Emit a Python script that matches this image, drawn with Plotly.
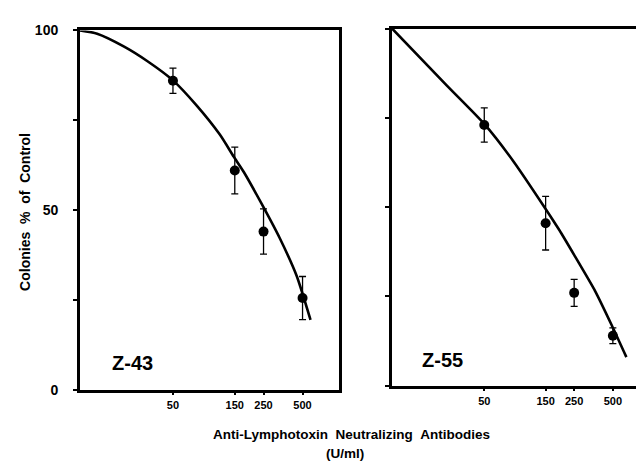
import plotly.graph_objects as go

# ── Data ────────────────────────────────────────────────────────────────────
doses = [50, 150, 250, 500]
dose_ticks = [50, 150, 250, 500]
dose_labels = ["50", "150", "250", "500"]

z43_mean = [86, 61, 44, 25.5]
z43_err = [3.5, 6.5, 6.3, 6.0]
z55_mean = [73, 45.5, 26, 14]
z55_err = [4.8, 7.5, 3.8, 2.2]

# fitted curves
z43_curve_x = [9.6, 13, 21, 31.6, 50, 76.6, 115, 147, 176, 242, 333, 450, 576]
z43_curve_y = [100, 99.1, 95.5, 91.5, 86.1, 79.0, 71.0, 64.9, 60.6, 51.7, 42.2, 31.7, 19.4]
z55_curve_x = [9.6, 25.5, 50, 83.6, 150, 190, 253, 364, 489, 637]
z55_curve_y = [100, 84.1, 73.3, 63.0, 49.5, 43.8, 36.3, 26.5, 17.0, 8.0]

y_ticks = [0, 25, 50, 75, 100]

W, H = 644, 462
FONT = "Arial"
BLACK = "#000000"
SP = "\u00a0\u00a0"   # wide word gaps as in the original typesetting

fig = go.Figure()

panels = [
    ("x", "y", z43_curve_x, z43_curve_y, z43_mean, z43_err),
    ("x2", "y2", z55_curve_x, z55_curve_y, z55_mean, z55_err),
]
for xa, ya, cx, cy, m, e in panels:
    fig.add_trace(go.Scatter(
        x=cx, y=cy, xaxis=xa, yaxis=ya, mode="lines",
        line=dict(color=BLACK, width=2.6, shape="spline", smoothing=0.6),
        showlegend=False, hoverinfo="skip",
    ))
    fig.add_trace(go.Scatter(
        x=doses, y=m, xaxis=xa, yaxis=ya, mode="markers",
        marker=dict(color=BLACK, size=10),
        error_y=dict(type="data", array=e, visible=True,
                     color=BLACK, thickness=1.3, width=3.5),
        showlegend=False,
    ))

xcommon = dict(
    type="log", range=[0.98, 2.98],
    tickvals=dose_ticks, ticktext=dose_labels,
    ticks="outside", ticklen=3, tickwidth=1.5, tickcolor=BLACK,
    showline=True, linecolor=BLACK, linewidth=2.5, mirror=True,
    showgrid=False, zeroline=False,
    tickfont=dict(family=FONT, size=11, color=BLACK, weight="bold"),
)
ycommon = dict(
    range=[0, 100], tickvals=y_ticks,
    ticks="outside", ticklen=4, tickwidth=1.5, tickcolor=BLACK,
    showline=True, linecolor=BLACK, linewidth=2.5, mirror=True,
    showgrid=False, zeroline=False, ticklabelstandoff=12,
    tickfont=dict(family=FONT, size=14, color=BLACK, weight="bold"),
)

fig.update_layout(
    width=W, height=H,
    margin=dict(l=0, r=0, t=0, b=0),
    paper_bgcolor="white", plot_bgcolor="white",
    xaxis=dict(xcommon, domain=[72 / W, 332 / W], anchor="y"),
    yaxis=dict(ycommon, domain=[1 - 387 / H, 1 - 15 / H], anchor="x",
               ticktext=["0", "", "50", "", "100"]),
    xaxis2=dict(xcommon, domain=[385 / W, 643 / W], anchor="y2"),
    yaxis2=dict(ycommon, domain=[1 - 383 / H, 1 - 13 / H], anchor="x2",
                ticktext=["", "", "", "", ""]),
)

# panel labels
fig.add_annotation(text="Z-43", xref="x domain", yref="y domain",
                   x=0.115, y=0.075, xanchor="left", yanchor="middle",
                   showarrow=False,
                   font=dict(family=FONT, size=20, color=BLACK, weight="bold"))
fig.add_annotation(text="Z-55", xref="x2 domain", yref="y2 domain",
                   x=0.108, y=0.072, xanchor="left", yanchor="middle",
                   showarrow=False,
                   font=dict(family=FONT, size=20, color=BLACK, weight="bold"))

# axis titles
fig.add_annotation(text=f"Colonies{SP}%{SP}of{SP}Control",
                   xref="paper", yref="paper",
                   x=17 / W, y=1 - 203 / H, textangle=-90, showarrow=False,
                   xanchor="center", yanchor="middle",
                   font=dict(family=FONT, size=14, color=BLACK, weight="bold"))
fig.add_annotation(text=f"Anti-Lymphotoxin{SP}Neutralizing{SP}Antibodies",
                   xref="paper", yref="paper",
                   x=345 / W, y=1 - 434 / H, showarrow=False,
                   xanchor="center", yanchor="middle",
                   font=dict(family=FONT, size=13.5, color=BLACK, weight="bold"))
fig.add_annotation(text="(U/ml)",
                   xref="paper", yref="paper",
                   x=338 / W, y=1 - 453 / H, showarrow=False,
                   xanchor="center", yanchor="middle",
                   font=dict(family=FONT, size=13.5, color=BLACK, weight="bold"))

fig.write_html("out.html")
